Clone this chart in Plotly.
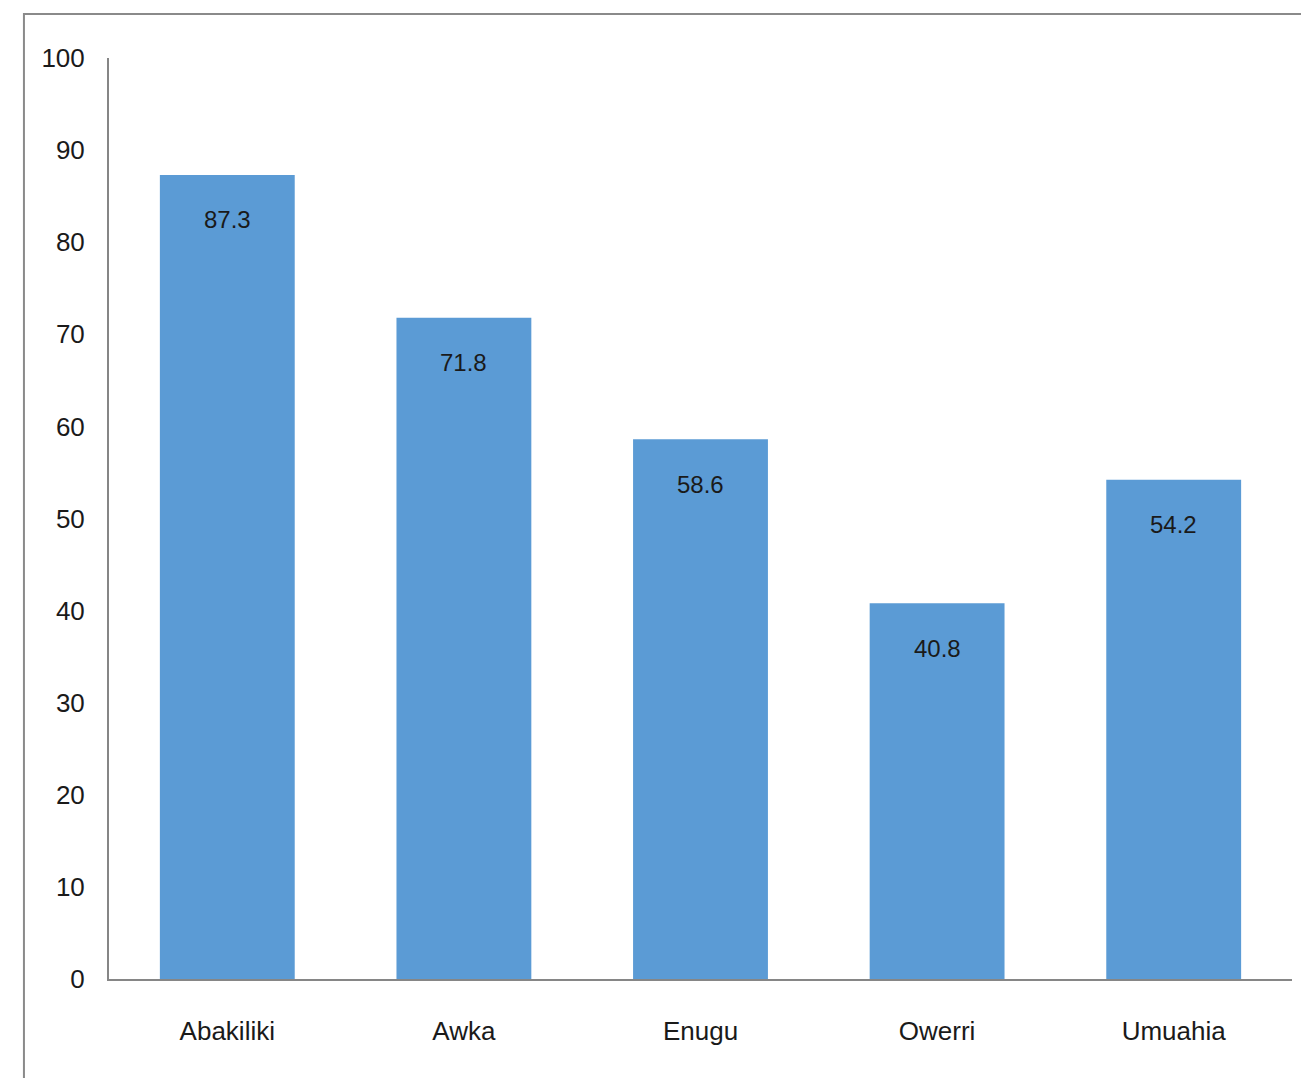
import plotly.graph_objects as go

# Cities and their percentage values
cities = ["Abakiliki", "Awka", "Enugu", "Owerri", "Umuahia"]
values = [87.3, 71.8, 58.6, 40.8, 54.2]
y_ticks = [0, 10, 20, 30, 40, 50, 60, 70, 80, 90, 100]

FONT = "Liberation Sans, Arial, sans-serif"
BAR_COLOR = "#5B9BD5"
AXIS_COLOR = "#868686"

fig = go.Figure(
    go.Bar(
        x=cities,
        y=values,
        marker=dict(color=BAR_COLOR, line=dict(width=0)),
        showlegend=False,
    )
)

# value labels sitting just inside the top of each bar
for c, v in zip(cities, values):
    fig.add_annotation(
        x=c, y=v, text=f"{v}", showarrow=False,
        yanchor="middle", yshift=-45,
        font=dict(family=FONT, size=24, color="#1a1a1a"),
    )

# outer frame around the chart area
fig.add_shape(
    type="rect", xref="paper", yref="paper",
    x0=-0.0719, y0=-0.3, x1=1.05, y1=1.0478,
    line=dict(color="#8a8a8a", width=2), fillcolor="rgba(0,0,0,0)",
    layer="below",
)

fig.update_layout(
    width=1301, height=1078,
    margin=dict(l=109, r=9, t=58, b=99),
    paper_bgcolor="white", plot_bgcolor="white",
    bargap=0.43,
    font=dict(family=FONT, color="#1a1a1a"),
    xaxis=dict(
        showline=True, linecolor=AXIS_COLOR, linewidth=2,
        showgrid=False, ticks="", zeroline=False,
        tickfont=dict(family=FONT, size=26, color="#1a1a1a"),
        ticklabelstandoff=28,
    ),
    yaxis=dict(
        range=[0, 100], tickvals=y_ticks,
        showline=True, linecolor=AXIS_COLOR, linewidth=2,
        showgrid=False, ticks="", zeroline=False,
        tickfont=dict(family=FONT, size=26, color="#1a1a1a"),
        ticklabelstandoff=17,
    ),
)

fig.write_html("out.html")
